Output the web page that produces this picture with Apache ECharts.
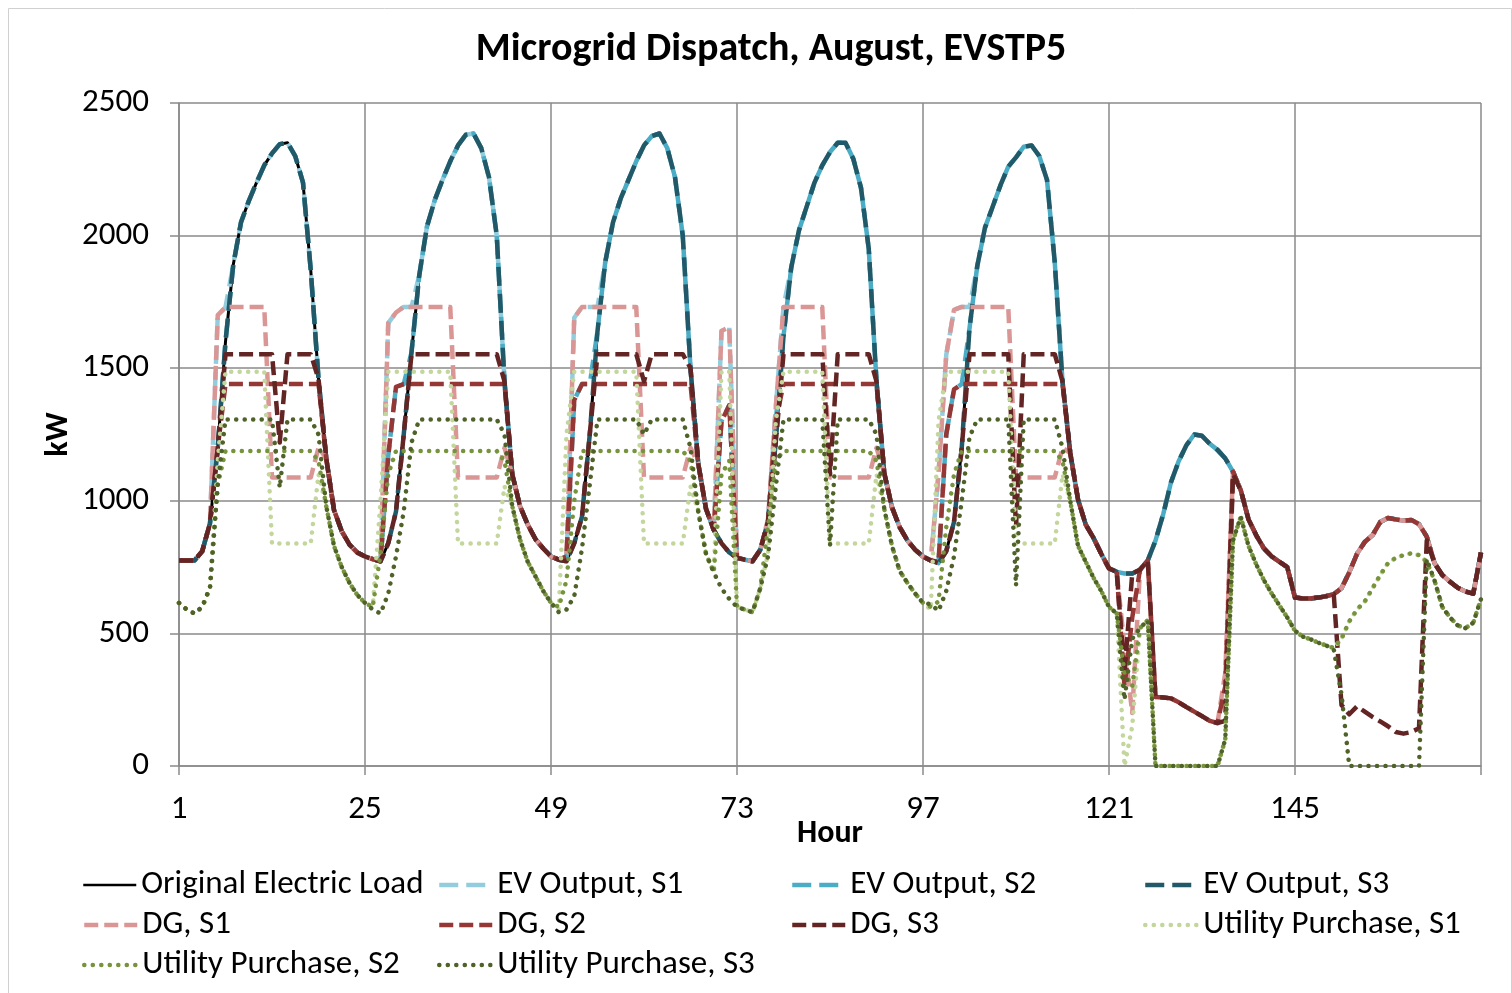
<!DOCTYPE html>
<html><head><meta charset="utf-8">
<script src="https://cdn.jsdelivr.net/npm/echarts/dist/echarts.min.js"></script>
<style>html,body{margin:0;padding:0;background:#fff}#c{width:1512px;height:993px}</style>
</head><body><div id="c"></div>
<script>
// Hours 1..169 on the x axis; tick labels every 24 h
const xTickLabels = [1, 25, 49, 73, 97, 121, 145];
const yTickLabels = [0, 500, 1000, 1500, 2000, 2500];

const originalLoad = [
 775,775,775,810,915,1200,1600,1890,2050,2130,2200,2265,2310,2345,2350,2300,2200,1870,1460,1160,965,885,835,805,
 790,780,772,840,960,1250,1560,1850,2035,2134,2210,2280,2340,2380,2385,2330,2220,2000,1450,1100,980,910,855,820,
 790,778,772,840,940,1250,1640,1900,2050,2140,2210,2280,2340,2375,2385,2330,2220,2000,1500,1140,970,890,840,805,
 785,778,772,815,920,1220,1620,1880,2020,2110,2200,2265,2315,2350,2350,2290,2180,1950,1450,1105,975,900,850,815,
 790,775,765,810,920,1200,1650,1885,2030,2110,2190,2260,2295,2335,2340,2300,2210,1900,1450,1180,1005,910,860,800,
 745,732,726,726,740,775,850,950,1070,1150,1210,1250,1245,1215,1192,1160,1110,1040,930,870,820,790,770,750,
 635,632,632,635,640,648,670,730,800,845,870,920,935,930,925,928,912,865,765,720,695,672,658,650,
 805];

const evOutputS1 = [
 775,775,775,810,915,1700,1730,1890,2050,2130,2200,2265,2310,2345,2350,2300,2200,1870,1460,1160,965,885,835,805,
 790,780,772,1670,1710,1731,1731,1850,2035,2134,2210,2280,2340,2380,2385,2330,2220,2000,1450,1100,980,910,855,820,
 790,778,772,1690,1731,1731,1731,1900,2050,2140,2210,2280,2340,2375,2385,2330,2220,2000,1500,1140,970,890,1640,1655,
 785,778,772,815,920,1350,1731,1880,2020,2110,2200,2265,2315,2350,2350,2290,2180,1950,1450,1105,975,900,850,815,
 790,775,1100,1550,1720,1731,1731,1885,2030,2110,2190,2260,2295,2335,2340,2300,2210,1900,1450,1180,1005,910,860,800,
 745,732,726,726,740,775,850,950,1070,1150,1210,1250,1245,1215,1192,1160,1110,1040,930,870,820,790,770,750,
 635,632,632,635,640,648,670,730,800,845,870,920,935,930,925,928,912,865,765,720,695,672,658,650,
 805];

const evOutputS2 = [
 775,775,775,810,915,1200,1600,1890,2050,2130,2200,2265,2310,2345,2350,2300,2200,1870,1460,1160,965,885,835,805,
 790,780,772,1170,1430,1440,1560,1850,2035,2134,2210,2280,2340,2380,2385,2330,2220,2000,1450,1100,980,910,855,820,
 790,778,772,1380,1440,1440,1640,1900,2050,2140,2210,2280,2340,2375,2385,2330,2220,2000,1500,1140,970,890,1300,1360,
 785,778,772,815,920,1300,1620,1880,2020,2110,2200,2265,2315,2350,2350,2290,2180,1950,1450,1105,975,900,850,815,
 790,775,765,1250,1420,1440,1650,1885,2030,2110,2190,2260,2295,2335,2340,2300,2210,1900,1450,1180,1005,910,860,800,
 745,732,726,726,740,775,850,950,1070,1150,1210,1250,1245,1215,1192,1160,1110,1040,930,870,820,790,770,750,
 635,632,632,635,640,648,670,730,800,845,870,920,935,930,925,928,912,865,765,720,695,672,658,650,
 805];

const evOutputS3 = [
 775,775,775,810,915,1200,1600,1890,2050,2130,2200,2265,2310,2345,2350,2300,2200,1870,1460,1160,965,885,835,805,
 790,780,772,840,960,1250,1560,1850,2035,2134,2210,2280,2340,2380,2385,2330,2220,2000,1450,1100,980,910,855,820,
 790,778,772,840,940,1250,1640,1900,2050,2140,2210,2280,2340,2375,2385,2330,2220,2000,1500,1140,970,890,840,805,
 785,778,772,815,920,1220,1620,1880,2020,2110,2200,2265,2315,2350,2350,2290,2180,1950,1450,1105,975,900,850,815,
 790,775,765,810,920,1200,1650,1885,2030,2110,2190,2260,2295,2335,2340,2300,2210,1900,1450,1180,1005,910,860,800,
 745,732,726,726,740,775,850,950,1070,1150,1210,1250,1245,1215,1192,1160,1110,1040,930,870,820,790,770,750,
 635,632,632,635,640,648,670,730,800,845,870,920,935,930,925,928,912,865,765,720,695,672,658,650,
 805];

const dgS1 = [
 775,775,775,810,915,1700,1730,1731,1731,1731,1731,1731,1088,1088,1088,1088,1088,1088,1200,1160,965,885,835,805,
 790,780,772,1670,1710,1731,1731,1731,1731,1731,1731,1731,1088,1088,1088,1088,1088,1088,1200,1100,980,910,855,820,
 790,778,800,1690,1731,1731,1731,1731,1731,1731,1731,1731,1088,1088,1088,1088,1088,1088,1200,1140,970,890,1640,1655,
 785,778,772,815,930,1350,1731,1731,1731,1731,1731,1731,1088,1088,1088,1088,1088,1088,1200,1105,975,900,850,815,
 790,775,1100,1550,1720,1731,1731,1731,1731,1731,1731,1731,1088,1088,1088,1088,1088,1088,1200,1180,1005,910,860,800,
 745,732,450,200,740,775,260,258,255,240,222,205,188,170,162,350,1110,1040,930,870,820,790,770,750,
 635,632,632,635,640,648,670,730,800,845,870,920,935,930,925,928,912,865,765,720,695,672,658,650,
 805];

const dgS2 = [
 775,775,775,810,915,1200,1440,1440,1440,1440,1440,1440,1440,1440,1440,1440,1440,1440,1440,1160,965,885,835,805,
 790,780,772,1170,1430,1440,1440,1440,1440,1440,1440,1440,1440,1440,1440,1440,1440,1440,1440,1100,980,910,855,820,
 790,778,790,1380,1440,1440,1440,1440,1440,1440,1440,1440,1440,1440,1440,1440,1440,1440,1440,1140,970,890,1300,1360,
 785,778,772,815,920,1300,1440,1440,1440,1440,1440,1440,1440,1440,1440,1440,1440,1440,1440,1105,975,900,850,815,
 790,775,770,1250,1420,1440,1440,1440,1440,1440,1440,1440,1440,1440,1440,1440,1440,1440,1440,1180,1005,910,860,800,
 745,732,300,560,740,775,260,258,255,240,222,205,188,170,162,300,1110,1040,930,870,820,790,770,750,
 635,632,632,635,640,648,670,730,800,845,870,920,935,930,925,928,912,865,765,720,695,672,658,650,
 805];

const dgS3 = [
 775,775,775,810,915,1200,1553,1553,1553,1553,1553,1553,1553,1220,1553,1553,1553,1553,1460,1160,965,885,835,805,
 790,780,772,840,960,1250,1553,1553,1553,1553,1553,1553,1553,1553,1553,1553,1553,1553,1450,1100,980,910,855,820,
 790,778,772,840,940,1250,1553,1553,1553,1553,1553,1553,1450,1553,1553,1553,1553,1553,1500,1140,970,890,840,805,
 785,778,772,815,920,1220,1553,1553,1553,1553,1553,1553,1100,1553,1553,1553,1553,1553,1450,1105,975,900,850,815,
 790,775,765,810,920,1200,1553,1553,1553,1553,1553,1553,900,1553,1553,1553,1553,1553,1450,1180,1005,910,860,800,
 745,732,350,726,740,775,260,258,255,240,222,205,188,170,162,170,1100,1040,930,870,820,790,770,750,
 635,632,632,635,640,648,230,195,225,205,185,168,150,128,122,128,142,850,765,720,695,672,658,650,
 805];

const utilityS1 = [
 615,590,575,600,673,1150,1487,1487,1487,1487,1487,1487,839,839,839,839,839,839,1100,980,830,750,690,645,
 615,600,1000,1487,1487,1487,1487,1487,1487,1487,1487,1487,839,839,839,839,839,839,1055,980,855,770,715,660,
 615,590,1250,1487,1487,1487,1487,1487,1487,1487,1487,1487,839,839,839,839,839,839,1055,960,800,730,1487,1487,
 600,590,580,670,800,1300,1487,1487,1487,1487,1487,1487,839,839,839,839,839,839,1100,970,830,735,690,650,
 615,590,1300,1487,1487,1487,1487,1487,1487,1487,1487,1487,839,839,839,839,839,839,1100,1000,830,770,710,660,
 600,575,0,150,520,550,0,0,0,0,0,0,0,0,0,100,850,940,830,760,700,650,605,560,
 510,488,478,465,455,445,480,545,590,620,670,720,765,785,795,802,795,770,700,600,560,530,520,540,
 630];

const utilityS2 = [
 615,590,575,600,673,1060,1188,1188,1188,1188,1188,1188,1188,1188,1188,1188,1188,1188,1150,980,830,750,690,645,
 615,600,800,1100,1188,1188,1188,1188,1188,1188,1188,1188,1188,1188,1188,1188,1188,1188,1150,980,855,770,715,660,
 615,600,700,1000,1188,1188,1188,1188,1188,1188,1188,1188,1188,1188,1188,1188,1188,1188,1150,960,800,730,1100,1150,
 600,590,580,670,900,1150,1188,1188,1188,1188,1188,1188,1188,1188,1188,1188,1188,1188,1150,970,830,735,690,650,
 615,600,620,900,1100,1188,1188,1188,1188,1188,1188,1188,1188,1188,1188,1188,1188,1188,1150,1000,830,770,710,660,
 600,575,350,300,520,550,0,0,0,0,0,0,0,0,0,100,850,940,830,760,700,650,605,560,
 510,488,478,465,455,445,480,545,590,620,670,720,765,785,795,802,795,770,700,600,560,530,520,540,
 630];

const utilityS3 = [
 615,590,575,600,673,1060,1307,1307,1307,1307,1307,1307,1307,1050,1307,1307,1307,1307,1250,980,830,750,690,645,
 615,590,575,650,790,960,1220,1307,1307,1307,1307,1307,1307,1307,1307,1307,1307,1307,1250,980,855,770,715,660,
 615,580,590,640,820,1060,1307,1307,1307,1307,1307,1307,1250,1307,1307,1307,1307,1307,1200,960,800,730,670,630,
 600,590,580,670,790,1050,1307,1307,1307,1307,1307,1307,830,1307,1307,1307,1307,1307,1250,970,830,735,690,650,
 615,610,585,660,790,1000,1240,1307,1307,1307,1307,1307,680,1307,1307,1307,1307,1307,1200,1000,830,770,710,660,
 600,575,250,480,520,550,0,0,0,0,0,0,0,0,0,100,850,940,830,760,700,650,605,560,
 510,488,478,465,455,440,270,0,0,0,0,0,0,0,0,0,0,780,700,600,560,530,520,540,
 630];

const seriesNames = ['Original Electric Load','EV Output, S1','EV Output, S2','EV Output, S3',
  'DG, S1','DG, S2','DG, S3','Utility Purchase, S1','Utility Purchase, S2','Utility Purchase, S3'];
const seriesValues = [originalLoad, evOutputS1, evOutputS2, evOutputS3, dgS1, dgS2, dgS3, utilityS1, utilityS2, utilityS3];
seriesValues.forEach((a, k) => { if (a.length !== 169) throw new Error(seriesNames[k] + ' has ' + a.length); });

const FONT = "Carlito, 'Liberation Sans', Arial, sans-serif";
const GRID_COLOR = '#8a8a8a';
const EV_DASH = [19, 8], DG_DASH = [14, 6], DOT = [0.1, 8.4];
const styles = [
  {color:'#000000', type:'solid', width:3},
  {color:'#93CDDD', type:EV_DASH, width:4.5},
  {color:'#4BACC6', type:EV_DASH, width:4.5},
  {color:'#215968', type:EV_DASH, width:4.5},
  {color:'#DA9694', type:DG_DASH, width:4.5},
  {color:'#953735', type:DG_DASH, width:4.5},
  {color:'#632523', type:DG_DASH, width:4.5},
  {color:'#C3D69B', type:DOT, width:4.5, cap:'round'},
  {color:'#77933C', type:DOT, width:4.5, cap:'round'},
  {color:'#4F6228', type:DOT, width:4.5, cap:'round'}
];

const series = seriesNames.map((name, k) => ({
  name, type:'line', symbol:'none', showSymbol:false, animation:false, z: 2 + k,
  data: seriesValues[k].map((v, i) => [i + 1, v]),
  lineStyle: {color: styles[k].color, width: styles[k].width, type: styles[k].type, cap: styles[k].cap || 'butt', join:'round'},
  itemStyle: {color: styles[k].color}
}));

const legendPos = [[82,868],[437,868],[790,868],[1143,868],[82,908],[437,908],[790,908],[1143,908],[82,948],[437,948]];
const legends = seriesNames.map((name, k) => ({
  data:[name], left: legendPos[k][0], top: legendPos[k][1], orient:'horizontal',
  itemWidth:53, itemHeight:14, padding:0, selectedMode:false,
  itemStyle:{opacity:0},
  lineStyle:{color: styles[k].color, width: k === 0 ? 2.5 : 4.5, type: styles[k].type, cap: styles[k].cap || 'butt'},
  textStyle:{fontSize:33, color:'#000', fontFamily:FONT, lineHeight:34}
}));

const chart = echarts.init(document.getElementById('c'), null, {renderer:'canvas'});
chart.setOption({
  backgroundColor:'#ffffff',
  animation:false,
  title:{text:'Microgrid Dispatch, August, EVSTP5', left:766, top:25, textAlign:'center',
    textStyle:{fontSize:40, fontWeight:'bold', color:'#000', fontFamily:FONT}},
  legend: legends,
  grid:{left:179, top:103, right:31, bottom:227, containLabel:false},
  xAxis:{type:'value', min:1, max:169, interval:24,
    name:'Hour', nameLocation:'middle', nameGap:52, nameMoveOverlap:false,
    nameTextStyle:{fontSize:32, fontWeight:'bold', color:'#000', fontFamily:FONT},
    axisLine:{show:true, lineStyle:{color:GRID_COLOR, width:1.5}},
    axisTick:{show:true, length:9, lineStyle:{color:GRID_COLOR, width:1.5}},
    splitLine:{show:true, lineStyle:{color:GRID_COLOR, width:1.5}},
    axisLabel:{fontSize:33, color:'#000', fontFamily:FONT, margin:27,
      formatter: v => xTickLabels.indexOf(v) >= 0 ? String(v) : ''}},
  yAxis:{type:'value', min:0, max:2500, interval:500,
    name:'kW', nameLocation:'middle', nameGap:104, nameRotate:90, nameMoveOverlap:false,
    nameTextStyle:{fontSize:32, fontWeight:'bold', color:'#000', fontFamily:FONT},
    axisLine:{show:true, lineStyle:{color:GRID_COLOR, width:1.5}},
    axisTick:{show:true, length:9, lineStyle:{color:GRID_COLOR, width:1.5}},
    splitLine:{show:true, lineStyle:{color:GRID_COLOR, width:1.5}},
    axisLabel:{fontSize:33, color:'#000', fontFamily:FONT, margin:30,
      formatter: v => yTickLabels.indexOf(v) >= 0 ? String(v) : ''}},
  graphic:[{type:'rect', shape:{x:8.5, y:8.5, width:1503, height:985}, silent:true,
    style:{fill:'none', stroke:'#d0d0d0', lineWidth:1}}],
  series
});
</script></body></html>
